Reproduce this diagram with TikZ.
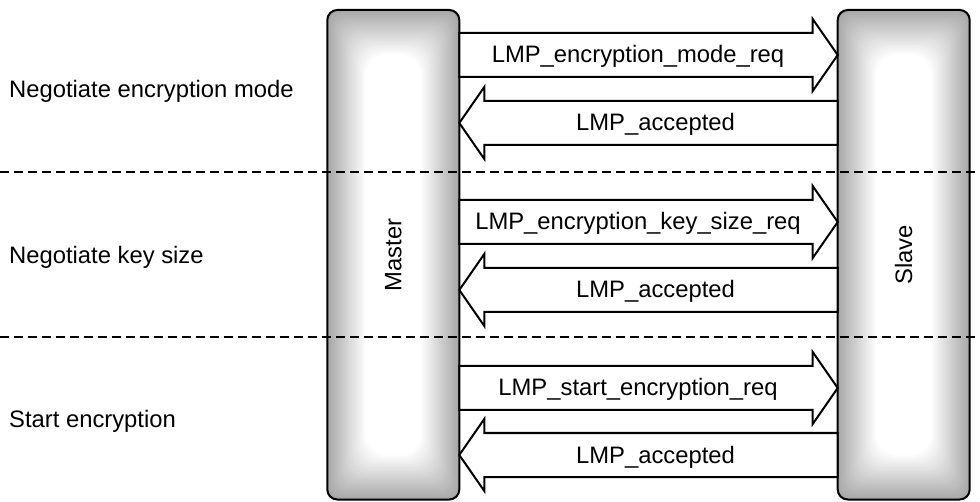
\documentclass[tikz,border=0pt]{standalone}
\usepackage{fontspec}
\setmainfont{Liberation Sans}
\usetikzlibrary{calc}

\tikzset{
  lifeline/.style={rectangle, minimum width=132pt, minimum height=489.5pt,
    inner sep=0pt, outer sep=0pt},
  lifeborder/.style={draw=black, line width=2pt, rounded corners=10pt},
  separator/.style={draw=black, line width=2pt, dash pattern=on 9pt off 5pt},
  msgbody/.style={draw=black, line width=2pt, fill=white, line join=miter},
  % wide arrow from the start point (on one lifeline) to the target point (on the other)
  msgright/.style={msgbody, to path={
    -- ($(\tikztostart)+(0,-22)$) -- ($(\tikztotarget)+(-25,-22)$)
    -- ($(\tikztotarget)+(-25,-36)$) -- (\tikztotarget)
    -- ($(\tikztotarget)+(-25,36)$) -- ($(\tikztotarget)+(-25,22)$)
    -- ($(\tikztostart)+(0,22)$) -- cycle}},
  msgleft/.style={msgbody, to path={
    -- ($(\tikztostart)+(0,-22)$) -- ($(\tikztotarget)+(25,-22)$)
    -- ($(\tikztotarget)+(25,-36)$) -- (\tikztotarget)
    -- ($(\tikztotarget)+(25,36)$) -- ($(\tikztotarget)+(25,22)$)
    -- ($(\tikztostart)+(0,22)$) -- cycle}},
  lbl/.style={font=\fontsize{23.8}{28}\selectfont, inner sep=0pt, anchor=base},
  phase/.style={lbl, anchor=base west},
  role/.style={font=\fontsize{23.8}{28}\selectfont, inner sep=0pt, rotate=90},
}

\begin{document}
\begin{tikzpicture}[x=1pt, y=-1pt]
  \useasboundingbox (0,0) rectangle (980,502);

  % the two lifelines
  \node[lifeline] (master) at (393.3,254.75) {};
  \node[lifeline] (slave)  at (903.7,254.75) {};

  % soft grey rim fading to a white core
  \foreach \nm in {master,slave}{
    \fill[black!34, rounded corners=10pt] (\nm.north west) rectangle (\nm.south east);
    \foreach \i in {1,...,20}{
      \pgfmathsetmacro\shadeval{34*(1-\i/20)}
      \pgfmathsetmacro\rad{10+0.6*\i}
      \fill[black!\shadeval, rounded corners=\rad pt]
        ($(\nm.north west)+(1.9*\i,2.2*\i)$) rectangle ($(\nm.south east)+(-1.9*\i,-2.2*\i)$);
    }
    \draw[lifeborder] (\nm.north west) rectangle (\nm.south east);
  }

  \node[role] (mlabel) at (master) {Master};
  \node[role] (slabel) at (slave) {Slave};

  % message anchor points on the lifelines
  \coordinate (m1) at (master.east |- 0,55);
  \coordinate (s1) at (slave.west  |- 0,55);
  \coordinate (m2) at (master.east |- 0,123);
  \coordinate (s2) at (slave.west  |- 0,123);
  \coordinate (m3) at (master.east |- 0,222);
  \coordinate (s3) at (slave.west  |- 0,222);
  \coordinate (m4) at (master.east |- 0,290);
  \coordinate (s4) at (slave.west  |- 0,290);
  \coordinate (m5) at (master.east |- 0,388);
  \coordinate (s5) at (slave.west  |- 0,388);
  \coordinate (m6) at (master.east |- 0,455);
  \coordinate (s6) at (slave.west  |- 0,455);

  \draw[msgright] (m1) to (s1);
  \draw[msgleft]  (s2) to (m2);
  \draw[msgright] (m3) to (s3);
  \draw[msgleft]  (s4) to (m4);
  \draw[msgright] (m5) to (s5);
  \draw[msgleft]  (s6) to (m6);

  \node[lbl] (l1) at (638,63)   {LMP\_encryption\_mode\_req};
  \node[lbl] (l2) at (655.5,131) {LMP\_accepted};
  \node[lbl] (l3) at (638,230)  {LMP\_encryption\_key\_size\_req};
  \node[lbl] (l4) at (655.5,298) {LMP\_accepted};
  \node[lbl] (l5) at (638,396)  {LMP\_start\_encryption\_req};
  \node[lbl] (l6) at (655.5,463) {LMP\_accepted};

  % phase names
  \node[phase] (p1) at (9,97.3) {Negotiate encryption mode};
  \node[phase] (p2) at (9,264)  {Negotiate key size};
  \node[phase] (p3) at (9,428)  {Start encryption};

  % phase separators
  \coordinate (d1l) at (0,172);
  \coordinate (d1r) at (980,172);
  \coordinate (d2l) at (0,337);
  \coordinate (d2r) at (980,337);
  \draw[separator] (d1l) -- (d1r);
  \draw[separator] (d2l) -- (d2r);
\end{tikzpicture}
\end{document}
